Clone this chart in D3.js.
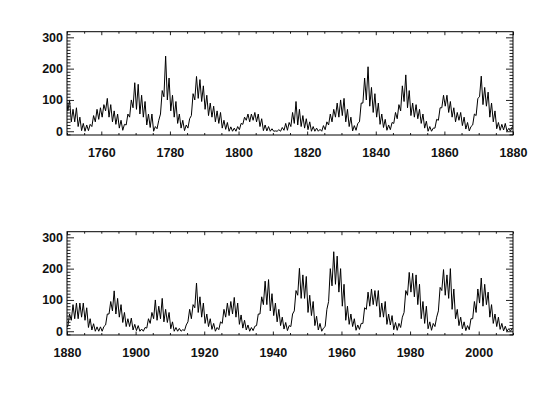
<!DOCTYPE html>
<html>
<head>
<meta charset="utf-8">
<script src="https://cdn.jsdelivr.net/npm/d3@7"></script>
<style>
  body { margin: 0; background: #fff; }
  text { font-family: "Liberation Sans", Arial, sans-serif; font-weight: bold; font-size: 12.5px; fill: #111; }
</style>
</head>
<body>
<div id="chart-area"></div>
<script>
// yearly sunspot band: low and high of the monthly trace per year
var years = d3.range(1749, 2010);

var lo = [
  60, 65, 30, 30, 15, 2, 0, 2, 15, 30, 38, 45, 65, 45, 30, 22, 10, 3, 20, 45,      // 1749-1768
  75, 70, 55, 45, 20, 12, 0, 8, 55, 110, 100, 65, 45, 25, 10, 2, 10, 50, 100, 105, // 1769-1788
  95, 70, 50, 45, 30, 25, 10, 6, 0, 0, 0, 5, 22, 35, 30, 35, 30, 15, 2, 1,         // 1789-1808
  0, 0, 0, 0, 3, 3, 15, 25, 20, 15, 10, 5, 0, 0, 0, 0, 5, 20, 30, 45,              // 1809-1828
  45, 50, 30, 15, 1, 3, 30, 90, 100, 80, 60, 45, 22, 12, 3, 5, 25, 40, 65, 95,     // 1829-1848
  75, 50, 45, 40, 25, 10, 0, 0, 10, 35, 75, 80, 60, 45, 30, 35, 18, 7, 1, 20,      // 1849-1868
  50, 110, 85, 80, 45, 30, 8, 3, 4, 0, 0, 15, 35, 40, 40, 45, 35, 12, 4, 0,        // 1869-1888
  0, 0, 20, 55, 65, 55, 45, 28, 15, 15, 4, 2, 0, 0, 10, 25, 40, 35, 40, 30,        // 1889-1908
  28, 8, 0, 0, 0, 2, 30, 40, 75, 60, 45, 25, 15, 6, 0, 5, 25, 45, 50, 55,          // 1909-1928
  45, 22, 10, 4, 0, 2, 18, 55, 85, 85, 65, 50, 30, 18, 7, 2, 15, 65, 115, 105,     // 1929-1948
  105, 60, 50, 18, 4, 0, 15, 95, 145, 150, 125, 80, 35, 22, 15, 3, 6, 25, 70, 80,  // 1949-1968
  85, 80, 45, 45, 22, 20, 5, 3, 12, 60, 115, 125, 110, 85, 40, 25, 8, 3, 15, 65,   // 1969-1988
  130, 115, 105, 70, 40, 18, 8, 2, 5, 40, 60, 90, 80, 85, 45, 25, 15, 6, 1, 0,     // 1989-2008
  0                                                                                // 2009
];

var hi = [
  110, 100, 70, 75, 45, 25, 20, 22, 50, 70, 75, 85, 105, 85, 65, 55, 35, 22, 55, 100,       // 1749-1768
  155, 150, 115, 95, 55, 55, 15, 35, 130, 240, 170, 115, 95, 55, 35, 20, 40, 120, 175, 165, // 1769-1788
  145, 115, 90, 80, 65, 60, 35, 28, 14, 10, 15, 25, 45, 55, 55, 60, 55, 40, 20, 15,         // 1789-1808
  8, 1, 5, 12, 25, 28, 60, 95, 70, 50, 40, 30, 15, 10, 6, 18, 30, 55, 70, 90,               // 1809-1828
  100, 105, 70, 45, 18, 25, 90, 170, 206, 140, 120, 90, 55, 38, 20, 28, 60, 85, 145, 180,   // 1829-1848
  130, 90, 85, 70, 55, 32, 15, 10, 38, 75, 115, 115, 95, 75, 60, 60, 45, 28, 15, 55,        // 1849-1868
  105, 176, 140, 125, 90, 65, 28, 22, 25, 9, 14, 55, 85, 90, 90, 90, 75, 40, 24, 14,        // 1869-1888
  14, 15, 55, 95, 129, 105, 85, 60, 40, 42, 22, 18, 7, 12, 40, 60, 100, 80, 105, 70,        // 1889-1908
  60, 30, 12, 9, 5, 20, 70, 85, 154, 110, 90, 55, 40, 25, 12, 30, 70, 90, 95, 108,          // 1909-1928
  90, 52, 35, 20, 12, 16, 55, 110, 160, 165, 120, 90, 70, 45, 28, 18, 55, 130, 201, 180,    // 1929-1948
  175, 115, 95, 48, 25, 10, 70, 200, 254, 240, 200, 150, 80, 55, 40, 20, 25, 75, 125, 135,  // 1949-1968
  130, 130, 90, 95, 55, 50, 28, 25, 45, 130, 188, 185, 180, 150, 95, 80, 30, 25, 45, 140,   // 1969-1988
  197, 180, 200, 135, 70, 45, 30, 18, 40, 95, 135, 170, 150, 125, 85, 55, 45, 25, 16, 8,    // 1989-2008
  8                                                                                         // 2009
];

var panels = [
  { start: 1750, end: 1880, xTicks: [1760, 1780, 1800, 1820, 1840, 1860, 1880] },
  { start: 1880, end: 2010, xTicks: [1880, 1900, 1920, 1940, 1960, 1980, 2000] }
];
var yTicks = [0, 100, 200, 300];

var width = 533, height = 399;
var margin = {left: 67, right: 20};
var plotW = width - margin.left - margin.right;
var plotH = 103.3;
var panelTops = [31.7, 231.7];

var svg = d3.select("#chart-area").append("svg")
    .attr("width", width)
    .attr("height", height);

// each year gives two points: its low then its high
var points = [];
years.forEach(function(yr, i){
  points.push({t: yr + 0.25, v: lo[i]});
  points.push({t: yr + 0.75, v: hi[i]});
});

panels.forEach(function(p, k){
  var g = svg.append("g")
      .attr("transform", "translate(" + margin.left + "," + panelTops[k] + ")");

  var x = d3.scaleLinear().domain([p.start, p.end]).range([0, plotW]);
  var y = d3.scaleLinear().domain([-12, 318]).range([plotH, 0]);

  g.append("clipPath").attr("id", "clip" + k)
    .append("rect").attr("width", plotW).attr("height", plotH);

  var line = d3.line()
      .x(function(d){ return x(d.t); })
      .y(function(d){ return y(d.v); });

  g.append("path")
    .datum(points.filter(function(d){ return d.t >= p.start - 1 && d.t <= p.end + 1; }))
    .attr("clip-path", "url(#clip" + k + ")")
    .attr("fill", "none")
    .attr("stroke", "#000")
    .attr("stroke-width", 1)
    .attr("d", line);

  var yMinor = d3.range(-10, 320, 10).filter(function(v){ return v % 100 != 0; });
  var xMinor = d3.range(p.start, p.end + 1, 5).filter(function(v){ return v % 20 != 0; });

  // left axis
  g.append("g").attr("class", "y axis")
    .call(d3.axisLeft(y).tickValues(yTicks).tickSize(-7).tickPadding(4).tickFormat(d3.format("d")));
  g.append("g").call(d3.axisLeft(y).tickValues(yMinor).tickSize(-3.5).tickFormat(""));
  // right axis
  g.append("g").attr("transform", "translate(" + plotW + ",0)")
    .call(d3.axisRight(y).tickValues(yTicks).tickSize(-7).tickFormat(""));
  g.append("g").attr("transform", "translate(" + plotW + ",0)")
    .call(d3.axisRight(y).tickValues(yMinor).tickSize(-3.5).tickFormat(""));
  // bottom axis
  g.append("g").attr("class", "x axis").attr("transform", "translate(0," + plotH + ")")
    .call(d3.axisBottom(x).tickValues(p.xTicks).tickSize(-3.5).tickPadding(13).tickFormat(d3.format("d")));
  g.append("g").attr("transform", "translate(0," + plotH + ")")
    .call(d3.axisBottom(x).tickValues(xMinor).tickSize(-2).tickFormat(""));
  // top axis
  g.append("g")
    .call(d3.axisTop(x).tickValues(p.xTicks).tickSize(-3.5).tickFormat(""));
  g.append("g")
    .call(d3.axisTop(x).tickValues(xMinor).tickSize(-2).tickFormat(""));

  g.selectAll(".domain").remove();
  g.selectAll(".tick line").attr("stroke", "#222");
  g.selectAll(".tick text").attr("fill", "#111").style("font-size", "12.5px");

  g.append("rect")
    .attr("width", plotW).attr("height", plotH)
    .attr("fill", "none").attr("stroke", "#000").attr("stroke-width", 1);
});
</script>
</body>
</html>
